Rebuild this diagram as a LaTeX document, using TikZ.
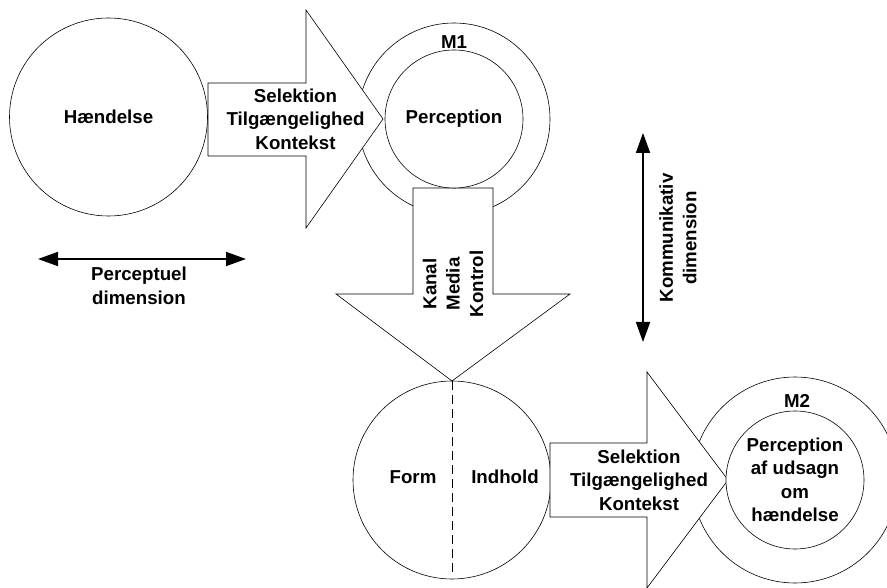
\documentclass[tikz,border=0pt]{standalone}
\usepackage{fontspec}
\setmainfont{Liberation Sans}
\usetikzlibrary{arrows.meta}

\begin{document}
\begin{tikzpicture}[x=1pt, y=-1pt,
  ring/.style={circle, draw=black, line width=0.6pt, fill=white, inner sep=0pt, outer sep=0pt},
  blockarrow/.style={draw=black, line width=0.6pt, fill=white, line join=miter},
  lbl/.style={font=\fontsize{18.7}{23.4}\selectfont\bfseries, align=center, inner sep=0pt},
  dimarrow/.style={line width=1.8pt,
    {Triangle[length=20pt,width=14pt]}-{Triangle[length=20pt,width=14pt]}},
]
\useasboundingbox (0,0) rectangle (887,588);

% outer rings first, so the block arrows cover them
\node[ring] (m1out) at (454,119) [minimum size=192pt] {};
\node[ring] (m2out) at (795,480) [minimum size=206pt] {};

% the event
\node[ring, lbl, minimum size=198pt] (event) at (108.5,117) {Hændelse};

% first block arrow: event -> M1
\draw[blockarrow] (208,83) -- (306,83) -- (306,10) -- (383,119)
  -- (306,228) -- (306,156) -- (208,156) -- cycle;
\node[lbl] (filter1) at (295.5,119) {Selektion\\Tilgængelighed\\Kontekst};

% second block arrow: M1 -> message (pointing down)
\draw[blockarrow] (413,188) -- (493,188) -- (493,294) -- (570,294)
  -- (452,381) -- (336,294) -- (413,294) -- cycle;
\node[lbl, rotate=90] (channel) at (453,284) {Kanal\\Media\\Kontrol};

% the message, split into form and content
\node[ring, minimum size=198pt] (message) at (452,480) {};
\coordinate (splitend) at (452,574);
\draw[line width=0.9pt, dash pattern=on 9pt off 5pt] (message.north) -- (splitend);
\node[lbl] (form) at (413,477) {Form};
\node[lbl] (content) at (505,477) {Indhold};

% third block arrow: message -> M2
\draw[blockarrow] (550,443) -- (647,443) -- (647,372) -- (728,480)
  -- (647,588) -- (647,517) -- (550,517) -- cycle;
\node[lbl] (filter2) at (639,480) {Selektion\\Tilgængelighed\\Kontekst};

% inner rings
\node[ring, lbl, minimum size=138pt] (m1in) at (454,119) {Perception};
\node[lbl] (m1name) at (454,42) {M1};
\node[ring, lbl, minimum size=138pt] (m2in) at (795,480)
  {Perception\\af udsagn\\om\\hændelse};
\node[lbl] (m2name) at (797,401) {M2};

% dimension arrows
\coordinate (perL) at (38,259);
\coordinate (perR) at (246,259);
\draw[dimarrow] (perL) -- (perR);
\node[lbl] (perlabel) at (139,286) {Perceptuel\\dimension};

\coordinate (comT) at (643,133);
\coordinate (comB) at (643,342);
\draw[dimarrow] (comT) -- (comB);
\node[lbl, rotate=90] (comlabel) at (678,238) {Kommunikativ\\dimension};
\end{tikzpicture}
\end{document}
